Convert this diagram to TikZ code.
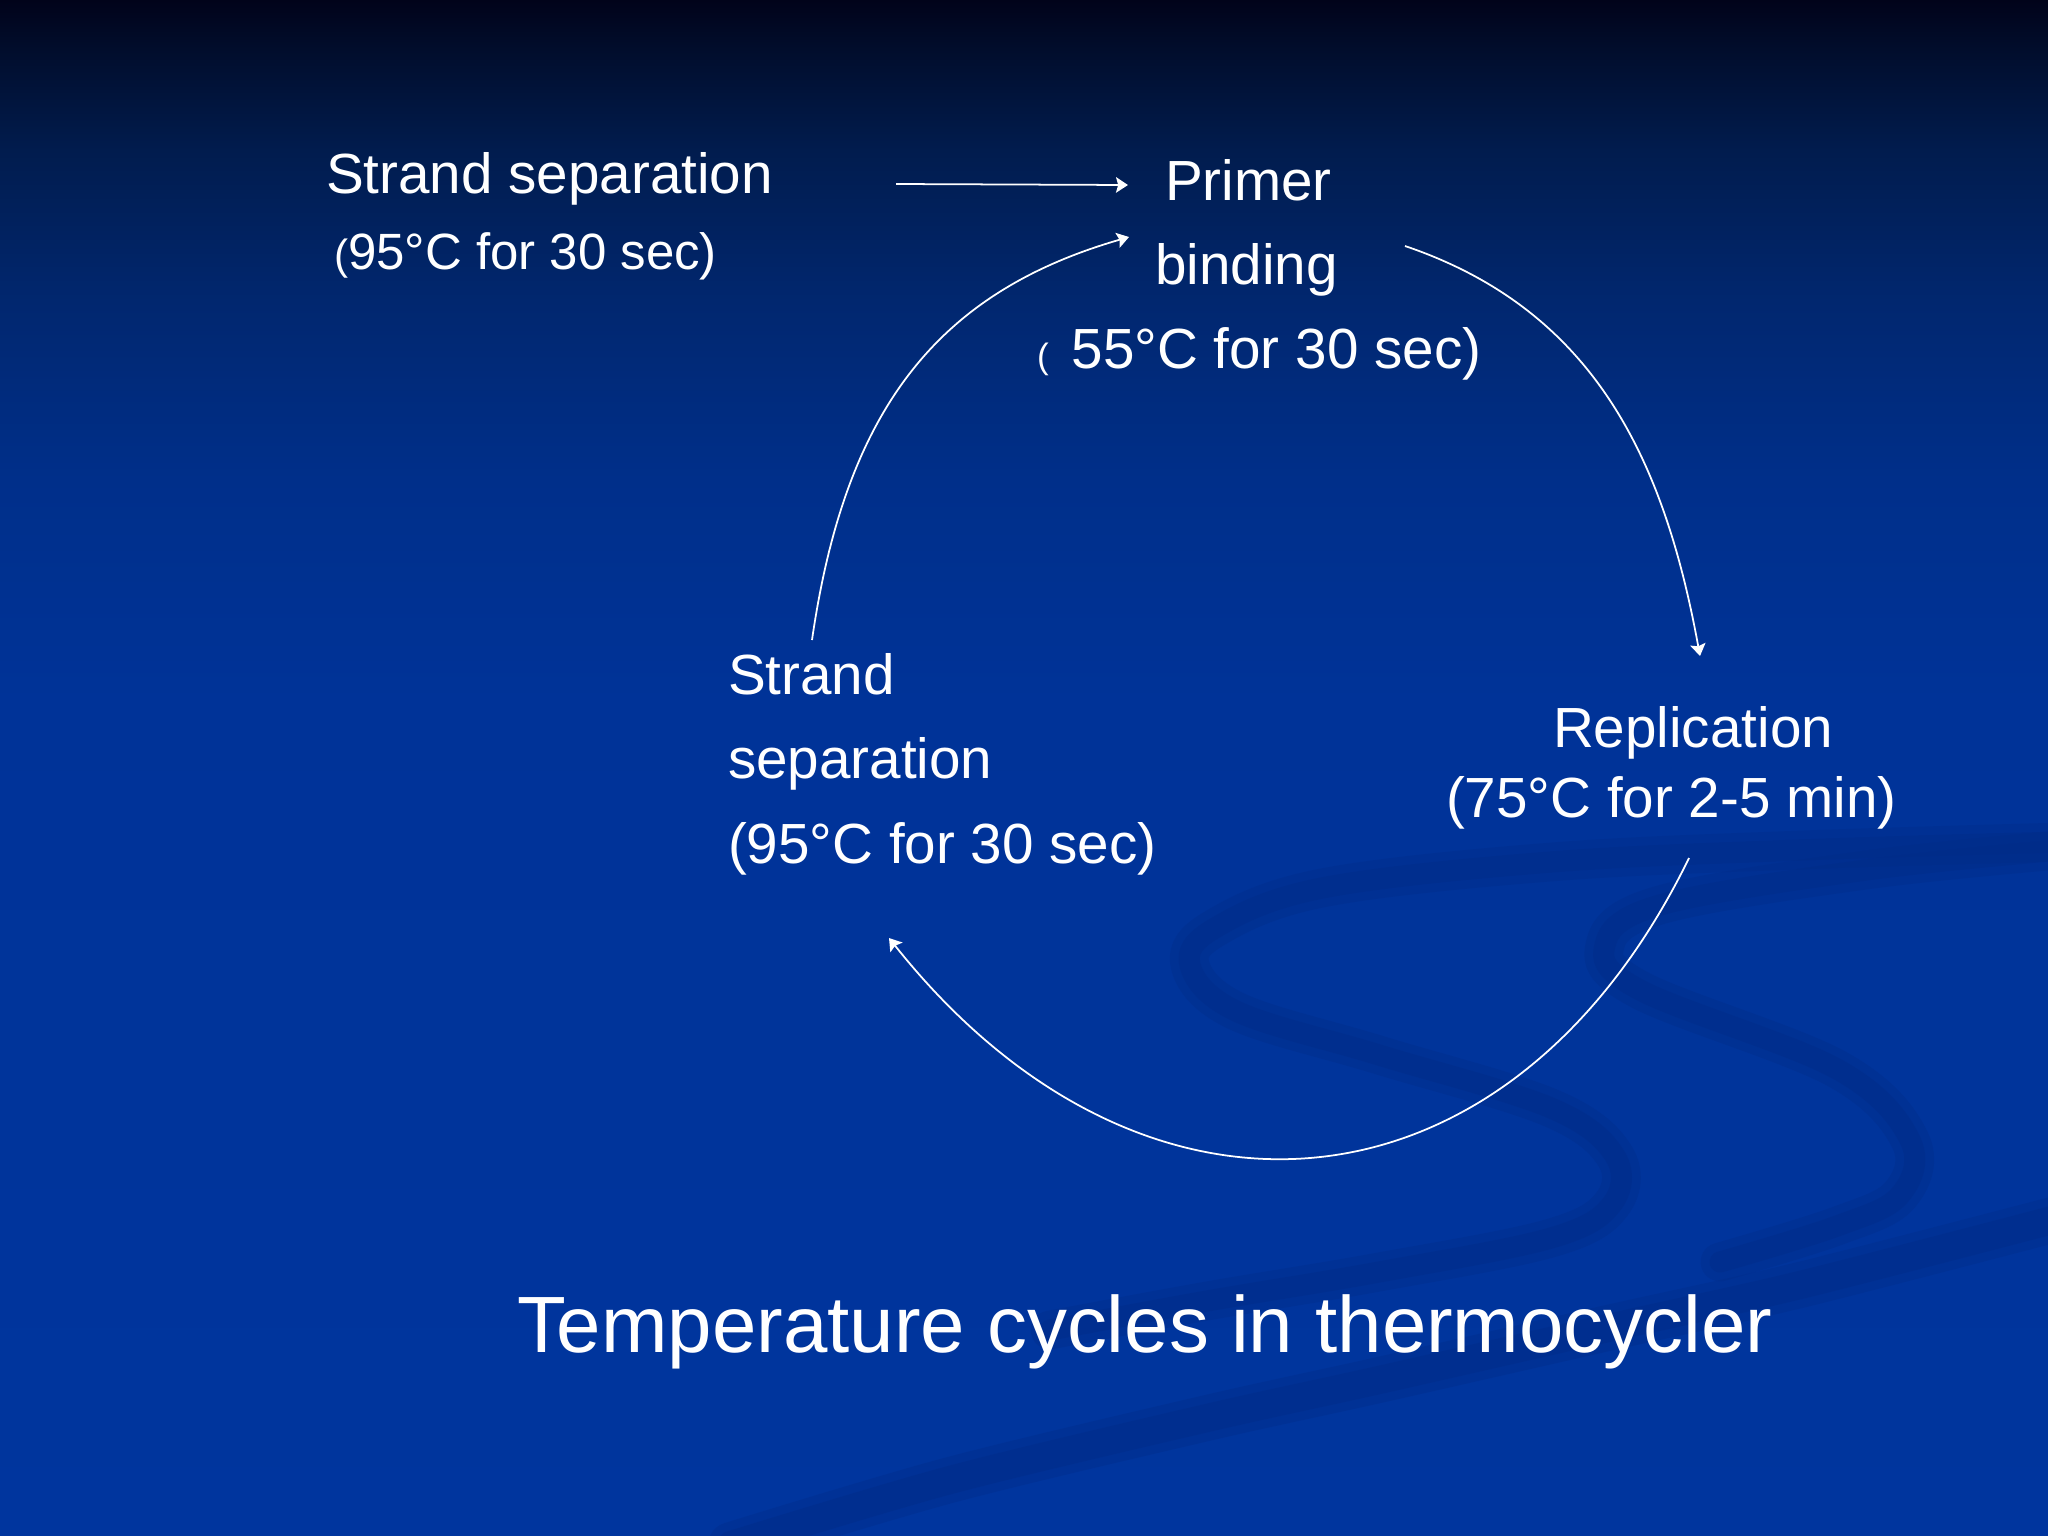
\documentclass[tikz,border=0pt]{standalone}
\usepackage{fontspec}
\setmainfont{Liberation Sans}
\usetikzlibrary{arrows.meta}
\definecolor{bgtop}{HTML}{01031A}
\definecolor{bgdarkA}{HTML}{010D2C}
\definecolor{bgdarkB}{HTML}{011C4E}
\definecolor{bgmidA}{HTML}{01276F}
\definecolor{bgmidB}{HTML}{002F8A}
\definecolor{bgmidC}{HTML}{003398}
\definecolor{bgbot}{HTML}{00359E}
\definecolor{swoosh}{HTML}{002C88}
\pgfdeclareverticalshading{slidebg}{100bp}{%
  color(0bp)=(bgbot); color(25bp)=(bgbot); color(52.2bp)=(bgmidC); color(59.4bp)=(bgmidB);
  color(65.2bp)=(bgmidA); color(70.1bp)=(bgdarkB); color(73.4bp)=(bgdarkA);
  color(75bp)=(bgtop); color(100bp)=(bgtop)}
\tikzset{
  txt/.style={text=white, font=\fontsize{16.1}{19}\selectfont, anchor=base west, inner sep=0pt, outer sep=0pt},
  ttl/.style={text=white, font=\fontsize{22.7}{27}\selectfont, anchor=base west, inner sep=0pt, outer sep=0pt},
  conn/.style={draw=white, line width=0.5pt, -{Stealth[length=3.4pt,width=4.4pt,inset=0.6pt]}},
  band/.style={draw=swoosh, line cap=round, line join=round}
}
\begin{document}
\begin{tikzpicture}[x=0.01cm,y=-0.01cm]
\useasboundingbox (0,0) rectangle (2048,1536);
\shade[shading=slidebg] (0,0) rectangle (2048,1536);
% faint background swoosh
\begin{scope}[opacity=0.35]
\draw[band, line width=11pt] plot[smooth, tension=0.6] coordinates {(2060,842) (1800,850) (1551,862) (1322,888) (1215,928) (1190,965) (1236,1011) (1379,1055) (1551,1108) (1615,1156) (1612,1204) (1551,1238) (1379,1272) (1207,1301) (1050,1330)};
\draw[band, line width=11pt] plot[smooth, tension=0.6] coordinates {(2060,850) (1866,870) (1660,905) (1605,945) (1640,990) (1837,1069) (1910,1140) (1900,1195) (1837,1226) (1720,1262)};
\draw[band, line width=13pt] plot[smooth, tension=0.5] coordinates {(2060,1218) (1800,1285) (1608,1328) (1379,1380) (1207,1418) (950,1480) (731,1545)};
\end{scope}
\begin{scope}[opacity=0.45]
\draw[band, line width=6pt] plot[smooth, tension=0.6] coordinates {(2060,842) (1800,850) (1551,862) (1322,888) (1215,928) (1190,965) (1236,1011) (1379,1055) (1551,1108) (1615,1156) (1612,1204) (1551,1238) (1379,1272) (1207,1301) (1050,1330)};
\draw[band, line width=6pt] plot[smooth, tension=0.6] coordinates {(2060,850) (1866,870) (1660,905) (1605,945) (1640,990) (1837,1069) (1910,1140) (1900,1195) (1837,1226) (1720,1262)};
\draw[band, line width=8pt] plot[smooth, tension=0.5] coordinates {(2060,1218) (1800,1285) (1608,1328) (1379,1380) (1207,1418) (950,1480) (731,1545)};
\end{scope}
% texts
\node[txt] (ssA1) at (326,193) {Strand separation};
\node[txt, font=\fontsize{14.5}{17}\selectfont] (ssA2) at (334,269) {{\fontsize{12}{14}\selectfont(}95°C for 30 sec)};
\node[txt] (pb1) at (1165,200) {Primer};
\node[txt] (pb2) at (1155,284) {binding};
\node[txt] (pb3) at (1037,368) {{\fontsize{10}{12}\selectfont(}\hspace{6.5pt}55°C for 30 sec)};
\node[txt] (ssB1) at (728,694) {Strand};
\node[txt] (ssB2) at (728,778) {separation};
\node[txt] (ssB3) at (728,863) {(95°C for 30 sec)};
\node[txt] (rep1) at (1553,747) {Replication};
\node[txt] (rep2) at (1446,817) {(75°C for 2-5 min)};
\node[ttl] (title) at (517,1352) {Temperature cycles in thermocycler};
% connector end points
\coordinate (l1s) at (896,184);
\coordinate (l1e) at (1128,185);
\coordinate (a1s) at (812,640);
\coordinate (a1e) at (1129,237);
\coordinate (a2s) at (1405,246);
\coordinate (a2e) at (1700,656);
\coordinate (a3s) at (1689,858);
\coordinate (a3e) at (889,938);
% connectors
\draw[conn] (l1s) -- (l1e);
\draw[conn] (a1s) .. controls (845,412) and (935,293) .. (a1e);
\draw[conn] (a2s) .. controls (1594,310) and (1664,459) .. (a2e);
\draw[conn] (a3s) .. controls (1509,1227) and (1143,1258) .. (a3e);
\end{tikzpicture}
\end{document}
